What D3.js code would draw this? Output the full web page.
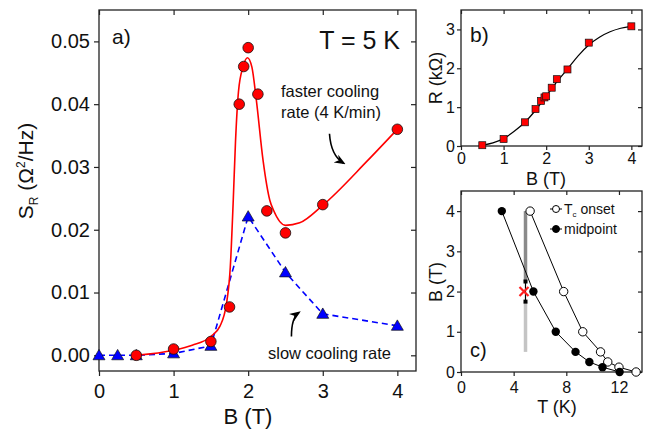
<!DOCTYPE html>
<html lang="en">
<head>
  <meta charset="UTF-8">
  <title>Noise vs field</title>
  <style>
    body { margin: 0; background: #fff; }
    text { font-family: Arial, "Liberation Sans", sans-serif; fill: #111; }
  </style>
</head>
<body>
<div id="chart-container"></div>
<script src="https://d3js.org/d3.v7.min.js"></script>
<script>

// panel a) noise power vs field
const fieldFast = [0.5, 1, 1.5, 1.75, 1.88, 1.94, 2, 2.13, 2.25, 2.5, 3, 4];
const noiseFast = [0, 0.0010, 0.0022, 0.0077, 0.0400, 0.0460, 0.0490, 0.0416, 0.0230, 0.0195, 0.0240, 0.0360];
const fieldSlow = [0, 0.25, 0.5, 1, 1.5, 2, 2.5, 3, 4];
const noiseSlow = [0, 0, 0, 0.0003, 0.0015, 0.0221, 0.0132, 0.0066, 0.0047];
const fitFastB = [0.5, 1, 1.25, 1.5, 1.62, 1.71, 1.76, 1.8, 1.83, 1.87, 1.93, 1.99, 2.05, 2.11, 2.2, 2.29, 2.34, 2.5, 2.69, 3, 3.6, 4];
const fitFastS = [0, 0.0008, 0.0016, 0.003, 0.0046, 0.0083, 0.014, 0.0247, 0.034, 0.042, 0.0459, 0.0474, 0.0459, 0.0406, 0.031, 0.0247, 0.0231, 0.0207, 0.0211, 0.0239, 0.031, 0.036];

// panel b) resistance vs field
const fieldR = [0.5, 1, 1.5, 1.75, 1.88, 1.96, 2, 2.13, 2.25, 2.5, 3, 4];
const resist = [0.02, 0.18, 0.61, 0.95, 1.16, 1.25, 1.28, 1.50, 1.72, 1.97, 2.66, 3.08];
const fitRB = [0.5, 0.75, 1, 1.25, 1.5, 1.75, 2, 2.25, 2.5, 2.75, 3, 3.25, 3.5, 3.75, 4];
const fitR = [0.02, 0.08, 0.19, 0.38, 0.61, 0.92, 1.28, 1.65, 1.98, 2.32, 2.6, 2.8, 2.94, 3.03, 3.08];

// panel c) phase diagram
const tOnset = [5.25, 7.8, 9.25, 10.6, 11.15, 12.0, 13.3];
const bOnset = [4, 2, 1, 0.5, 0.25, 0.12, 0];
const tMid = [3.1, 5.5, 7.2, 8.7, 9.75, 10.75, 12.05];
const bMid = [4, 2, 1, 0.5, 0.25, 0.12, 0];
const measT = 4.9;        // measurement temperature marker
const barLow = [0.5, 1.75];
const barErr = [1.75, 2.25];
const barHigh = [2.25, 4];

const zip = (xs, ys) => xs.map((v, i) => [v, ys[i]]);

const svg = d3.select("#chart-container")
  .append("svg")
  .attr("width", 652)
  .attr("height", 430);

// frame with outward ticks on left/bottom, inward on top/right
function drawFrame(x, y, o) {
  const g = svg.append("g");
  const [x0, x1] = x.range();
  const [y0, y1] = y.range();
  const bot = g.append("g").attr("transform", `translate(0,${y0})`);
  bot.call(d3.axisBottom(x).tickValues(o.xMinor).tickSize(o.minor).tickFormat(""));
  bot.call(d3.axisBottom(x).tickValues(o.xMajor).tickSize(o.major).tickPadding(o.xPad).tickFormat(o.xFmt));
  const lft = g.append("g").attr("transform", `translate(${x0},0)`);
  lft.call(d3.axisLeft(y).tickValues(o.yMinor).tickSize(o.minor).tickFormat(""));
  lft.call(d3.axisLeft(y).tickValues(o.yMajor).tickSize(o.major).tickPadding(o.yPad).tickFormat(o.yFmt));
  const top = g.append("g").attr("transform", `translate(0,${y1})`);
  top.call(d3.axisBottom(x).tickValues(o.xMinor).tickSize(o.minor).tickFormat(""));
  top.call(d3.axisBottom(x).tickValues(o.xMajor).tickSize(o.major).tickFormat(""));
  const rgt = g.append("g").attr("transform", `translate(${x1},0)`);
  rgt.call(d3.axisLeft(y).tickValues(o.yMinor).tickSize(o.minor).tickFormat(""));
  rgt.call(d3.axisLeft(y).tickValues(o.yMajor).tickSize(o.major).tickFormat(""));
  g.selectAll(".domain").remove();
  g.selectAll(".tick line").attr("stroke", "#222").attr("stroke-width", 1.2);
  g.selectAll(".tick text").style("font-size", o.font + "px").attr("fill", "#111")
    .style("font-family", "Arial, 'Liberation Sans', sans-serif");
  g.append("rect")
    .attr("x", x0).attr("y", y1)
    .attr("width", x1 - x0).attr("height", y0 - y1)
    .attr("fill", "none").attr("stroke", "#222").attr("stroke-width", 1.3);
  return g;
}

svg.append("defs").append("marker")
  .attr("id", "arrow")
  .attr("viewBox", "0 0 10 10")
  .attr("refX", 8).attr("refY", 5)
  .attr("markerWidth", 7).attr("markerHeight", 7)
  .attr("orient", "auto")
  .append("path").attr("d", "M0,1 L10,5 L0,9 L3,5 Z").attr("fill", "#000");

// ---------- a)
const xa = d3.scaleLinear().domain([0, 4.25]).range([99, 416]);
const ya = d3.scaleLinear().domain([-0.0025, 0.055]).range([371, 10]);
drawFrame(xa, ya, {
  xMajor: d3.range(0, 4.01, 1), xMinor: d3.range(0, 4.01, 0.5),
  yMajor: d3.range(0, 0.0501, 0.01), yMinor: d3.range(0, 0.0551, 0.005),
  major: 5, minor: 3, xPad: 8, yPad: 4, font: 20,
  xFmt: d3.format("d"), yFmt: d3.format(".2f")
});

svg.append("path")
  .datum(zip(fieldSlow, noiseSlow))
  .attr("fill", "none").attr("stroke", "#0000ff").attr("stroke-width", 1.6)
  .attr("stroke-dasharray", "6,4")
  .attr("d", d3.line().x(d => xa(d[0])).y(d => ya(d[1])));

svg.append("path")
  .datum(zip(fitFastB, fitFastS))
  .attr("fill", "none").attr("stroke", "#ff0000").attr("stroke-width", 1.6)
  .attr("d", d3.line().curve(d3.curveMonotoneX).x(d => xa(d[0])).y(d => ya(d[1])));

svg.selectAll(".tri")
  .data(zip(fieldSlow, noiseSlow))
  .enter().append("path")
  .attr("class", "tri")
  .attr("transform", d => `translate(${xa(d[0])},${ya(d[1]) + 1})`)
  .attr("d", d3.symbol(d3.symbolTriangle, 62))
  .attr("fill", "#0000ff").attr("stroke", "#111").attr("stroke-width", 0.7);

svg.selectAll(".dotA")
  .data(zip(fieldFast, noiseFast))
  .enter().append("circle")
  .attr("class", "dotA")
  .attr("cx", d => xa(d[0])).attr("cy", d => ya(d[1]))
  .attr("r", 5.3)
  .attr("fill", "#ff0000").attr("stroke", "#111").attr("stroke-width", 0.8);

// annotation arrows (in data units)
const arrowFast = [[3.09, 0.0353], [3.11, 0.0318], [3.28, 0.0306]];
const arrowSlow = [[2.58, 0.0030], [2.58, 0.0060], [2.68, 0.0068]];
[arrowFast, arrowSlow].forEach(p => {
  const [a, c, b] = p.map(d => [xa(d[0]), ya(d[1])]);
  svg.append("path")
    .attr("d", `M${a[0]},${a[1]} Q${c[0]},${c[1]} ${b[0]},${b[1]}`)
    .attr("fill", "none").attr("stroke", "#000").attr("stroke-width", 1.6)
    .attr("marker-end", "url(#arrow)");
});

svg.append("text").attr("x", 112).attr("y", 44).style("font-size", "21px").text("a)");
svg.append("text").attr("x", 400).attr("y", 49).attr("text-anchor", "end").style("font-size", "25px").text("T = 5 K");
svg.append("text").attr("x", 281).attr("y", 97).style("font-size", "16.5px").text("faster cooling");
svg.append("text").attr("x", 281).attr("y", 118).style("font-size", "16.5px").text("rate (4 K/min)");
svg.append("text").attr("x", 268).attr("y", 359).style("font-size", "16.5px").text("slow cooling rate");
svg.append("text").attr("x", 248).attr("y", 424).attr("text-anchor", "middle").style("font-size", "22px").text("B (T)");
const yla = svg.append("text")
  .attr("transform", "translate(33,171) rotate(-90)")
  .attr("text-anchor", "middle").style("font-size", "21px");
yla.append("tspan").text("S");
yla.append("tspan").attr("dy", 5).style("font-size", "12px").text("R");
yla.append("tspan").attr("dy", -5).text(" (\u03A9");
yla.append("tspan").attr("dy", -8).style("font-size", "12px").text("2");
yla.append("tspan").attr("dy", 8).text("/Hz)");

// ---------- b)
const xb = d3.scaleLinear().domain([0, 4.25]).range([461, 642]);
const yb = d3.scaleLinear().domain([0, 3.5]).range([146, 10]);
drawFrame(xb, yb, {
  xMajor: d3.range(0, 4.01, 1), xMinor: d3.range(0, 4.01, 0.5),
  yMajor: d3.range(0, 3.01, 1), yMinor: d3.range(0, 3.51, 0.5),
  major: 4, minor: 2.5, xPad: 3, yPad: 2, font: 16,
  xFmt: d3.format("d"), yFmt: d3.format("d")
});

svg.append("path")
  .datum(zip(fitRB, fitR))
  .attr("fill", "none").attr("stroke", "#000").attr("stroke-width", 1.2)
  .attr("d", d3.line().curve(d3.curveMonotoneX).x(d => xb(d[0])).y(d => yb(d[1])));

svg.selectAll(".sq")
  .data(zip(fieldR, resist))
  .enter().append("rect")
  .attr("class", "sq")
  .attr("x", d => xb(d[0]) - 3.5).attr("y", d => yb(d[1]) - 3.5)
  .attr("width", 7).attr("height", 7)
  .attr("fill", "#ff0000").attr("stroke", "#111").attr("stroke-width", 0.7);

svg.append("text").attr("x", 470).attr("y", 42).style("font-size", "21px").text("b)");
svg.append("text").attr("x", 546).attr("y", 185).attr("text-anchor", "middle").style("font-size", "18px").text("B (T)");
svg.append("text").attr("transform", "translate(442,78) rotate(-90)")
  .attr("text-anchor", "middle").style("font-size", "18px").text("R (k\u03A9)");

// ---------- c)
const xc = d3.scaleLinear().domain([0, 13.75]).range([461, 642]);
const yc = d3.scaleLinear().domain([0, 4.5]).range([372, 191]);
drawFrame(xc, yc, {
  xMajor: d3.range(0, 12.01, 4), xMinor: d3.range(0, 13.01, 2),
  yMajor: d3.range(0, 4.01, 1), yMinor: d3.range(0, 4.51, 0.5),
  major: 4, minor: 2.5, xPad: 6, yPad: 2, font: 16,
  xFmt: d3.format("d"), yFmt: d3.format("d")
});

// measurement line at T = 5 K
const vbar = (seg, col, w) => svg.append("line")
  .attr("x1", xc(measT)).attr("x2", xc(measT))
  .attr("y1", yc(seg[0])).attr("y2", yc(seg[1]))
  .attr("stroke", col).attr("stroke-width", w);
vbar(barLow, "#c4c4c4", 3.5);
vbar(barHigh, "#8a8a8a", 3.5);
vbar(barErr, "#000", 1.2);
barErr.forEach(v => svg.append("rect")
  .attr("x", xc(measT) - 2).attr("y", yc(v) - 2)
  .attr("width", 4).attr("height", 4).attr("fill", "#000"));

const lineC = d3.line().x(d => xc(d[0])).y(d => yc(d[1]));
svg.append("path").datum(zip(tOnset, bOnset))
  .attr("fill", "none").attr("stroke", "#000").attr("stroke-width", 1).attr("d", lineC);
svg.append("path").datum(zip(tMid, bMid))
  .attr("fill", "none").attr("stroke", "#000").attr("stroke-width", 1).attr("d", lineC);

svg.selectAll(".on")
  .data(zip(tOnset, bOnset))
  .enter().append("circle")
  .attr("class", "on")
  .attr("cx", d => xc(d[0])).attr("cy", d => yc(d[1]))
  .attr("r", 4.2).attr("fill", "#fff").attr("stroke", "#000").attr("stroke-width", 1);
svg.selectAll(".mid")
  .data(zip(tMid, bMid))
  .enter().append("circle")
  .attr("class", "mid")
  .attr("cx", d => xc(d[0])).attr("cy", d => yc(d[1]))
  .attr("r", 4.2).attr("fill", "#000");

// red cross at measurement point
const cx0 = xc(measT) - 1.5, cy0 = yc(2);
svg.append("path")
  .attr("d", `M${cx0 - 4.5},${cy0 - 4.5}L${cx0 + 4.5},${cy0 + 4.5}M${cx0 - 4.5},${cy0 + 4.5}L${cx0 + 4.5},${cy0 - 4.5}`)
  .attr("stroke", "#ff2020").attr("stroke-width", 2.2);

// legend
const leg = [{ y: 209, fill: "#fff", label: "T", sub: "c", rest: " onset" },
             { y: 229, fill: "#000", label: "midpoint" }];
leg.forEach(l => {
  svg.append("line").attr("x1", 550).attr("x2", 562).attr("y1", l.y).attr("y2", l.y)
    .attr("stroke", "#000").attr("stroke-width", 1);
  svg.append("circle").attr("cx", 556).attr("cy", l.y).attr("r", 3.5)
    .attr("fill", l.fill).attr("stroke", "#000");
  const t = svg.append("text").attr("x", 564).attr("y", l.y + 4.5).style("font-size", "14px");
  t.append("tspan").text(l.label);
  if (l.sub) {
    t.append("tspan").attr("dy", 3).style("font-size", "8px").text(l.sub);
    t.append("tspan").attr("dy", -3).text(l.rest);
  }
});

svg.append("text").attr("x", 470).attr("y", 357).style("font-size", "20px").text("c)");
svg.append("text").attr("x", 557).attr("y", 413).attr("text-anchor", "middle").style("font-size", "18px").text("T (K)");
svg.append("text").attr("transform", "translate(442,282) rotate(-90)")
  .attr("text-anchor", "middle").style("font-size", "18px").text("B (T)");

</script>
</body>
</html>
